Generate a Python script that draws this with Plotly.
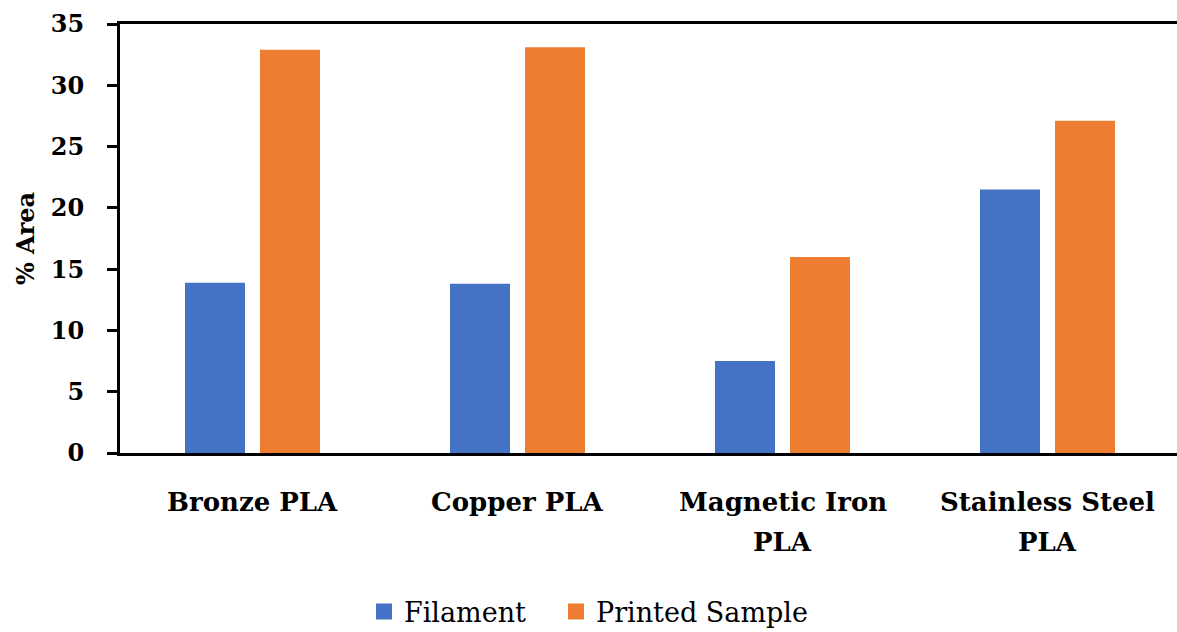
import plotly.graph_objects as go

categories = ["Bronze PLA", "Copper PLA", "Magnetic Iron PLA", "Stainless Steel PLA"]
label_line1 = ["Bronze PLA", "Copper PLA", "Magnetic Iron", "Stainless Steel"]
label_line2 = ["", "", "PLA", "PLA"]
series_names = ["Filament", "Printed Sample"]
series_colors = ["#4472C4", "#ED7D31"]
filament = [13.9, 13.8, 7.5, 21.5]
printed = [32.9, 33.1, 16.0, 27.1]
y_ticks = [0, 5, 10, 15, 20, 25, 30, 35]

FONT = "DejaVu Serif"
W, H = 1177, 632
ML, MR, MT, MB = 120, 0, 24, 179
cat_px = 265.0
plot_w = W - ML - MR
legend_ids = ["legend", "legend2"]
legend_left_px = [376, 568]

fig = go.Figure()
for name, vals, col in zip(series_names, [filament, printed], series_colors):
    fig.add_trace(go.Bar(x=categories, y=vals, name=name, showlegend=False,
                         marker=dict(color=col, line=dict(width=0))))
for name, col, lid in zip(series_names, series_colors, legend_ids):
    fig.add_trace(go.Scatter(x=[None], y=[None], mode="markers", name=name, legend=lid,
                             marker=dict(symbol="square", size=18, color=col)))

for i, c in enumerate(categories):
    fig.add_annotation(x=c, y=0, xref="x", yref="y", text="<b>%s</b>" % label_line1[i],
                       showarrow=False, yanchor="top", yshift=-32,
                       font=dict(family=FONT, size=26, color="black"))
    if label_line2[i]:
        fig.add_annotation(x=c, y=0, xref="x", yref="y", text="<b>%s</b>" % label_line2[i],
                           showarrow=False, yanchor="top", yshift=-72,
                           font=dict(family=FONT, size=26, color="black"))

legend_common = dict(orientation="h", xanchor="left",
                     yref="container", y=1 - 612 / H, yanchor="middle",
                     font=dict(family=FONT, size=27, color="black"),
                     itemsizing="trace", tracegroupgap=0, bgcolor="rgba(0,0,0,0)")

fig.update_layout(
    width=W, height=H,
    margin=dict(l=ML, r=MR, t=MT, b=MB, pad=0),
    paper_bgcolor="white", plot_bgcolor="white",
    barmode="group", bargap=0.434, bargroupgap=0.2,
    font=dict(family=FONT, color="black"),
    legend=dict(x=(legend_left_px[0] - ML - 12) / plot_w, **legend_common),
    legend2=dict(x=(legend_left_px[1] - ML - 12) / plot_w, **legend_common),
    xaxis=dict(range=[-0.5, -0.5 + plot_w / cat_px], showticklabels=False,
               showline=True, linecolor="black", linewidth=3, mirror=True,
               ticks="", showgrid=False, zeroline=False, fixedrange=True),
    yaxis=dict(range=[0, 35], tickvals=y_ticks, ticktext=["<b>%d</b>" % v for v in y_ticks],
               showline=True, linecolor="black", linewidth=3,
               ticks="outside", ticklen=10, tickwidth=3, tickcolor="black",
               ticklabelstandoff=18,
               tickfont=dict(family=FONT, size=24, color="black"),
               showgrid=False, zeroline=False,
               title=dict(text="<b>% Area</b>", font=dict(family=FONT, size=24, color="black"),
                          standoff=10)),
)

fig.write_html("out.html")
